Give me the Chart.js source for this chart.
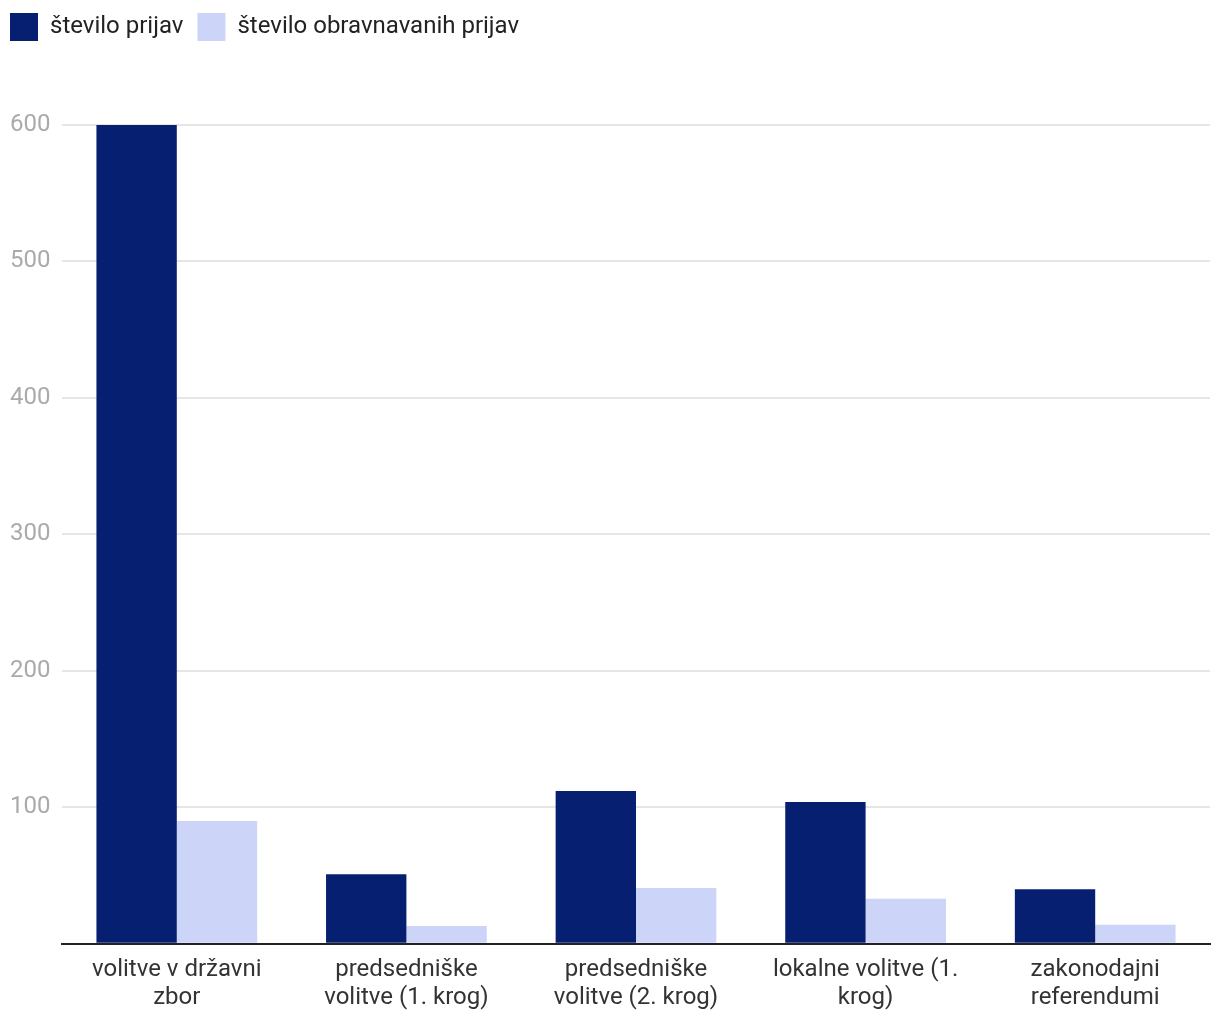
<!DOCTYPE html>
<html>
<head>
<meta charset="utf-8">
<script src="https://cdn.jsdelivr.net/npm/chart.js@4/dist/chart.umd.min.js"></script>
<style>
  html, body { margin: 0; padding: 0; background: #fff; }
  #wrap { width: 1220px; height: 1020px; }
</style>
</head>
<body>
<div id="wrap"><canvas id="chart"></canvas></div>
<script>
// Categories and values
const categories = [
    ['volitve v državni', 'zbor'],
    ['predsedniške', 'volitve (1. krog)'],
    ['predsedniške', 'volitve (2. krog)'],
    ['lokalne volitve (1.', 'krog)'],
    ['zakonodajni', 'referendumi']
];
const seriesNames = ['število prijav', 'število obravnavanih prijav'];
const prijave = [600, 51, 112, 104, 40];
const obravnavane = [90, 13, 41, 33, 14];
const yTicks = [0, 100, 200, 300, 400, 500, 600];

// Stretch the legend box so the plot starts lower, and pull it to the top-left corner
const legendSpace = {
    id: 'legendSpace',
    beforeInit(chart) {
        const legend = chart.legend;
        const fit = legend.fit;
        legend.fit = function () {
            fit.call(this);
            this.height += 71;
        };
        const draw = legend.draw;
        legend.draw = function () {
            const ctx = this.ctx;
            ctx.save();
            ctx.translate(-14, -3);
            draw.call(this);
            ctx.restore();
        };
    }
};

new Chart(document.getElementById('chart').getContext('2d'), {
    type: 'bar',
    data: {
        labels: categories,
        datasets: [
            { label: seriesNames[0], data: prijave, backgroundColor: '#071f70' },
            { label: seriesNames[1], data: obravnavane, backgroundColor: '#ccd4f8' }
        ]
    },
    options: {
        responsive: true,
        maintainAspectRatio: false,
        animation: false,
        layout: { padding: { left: 10, right: 10, top: 2, bottom: 0 } },
        datasets: { bar: { categoryPercentage: 0.7, barPercentage: 1.0 } },
        plugins: {
            legend: {
                align: 'start',
                labels: {
                    boxWidth: 28, boxHeight: 28, padding: 14,
                    color: '#222',
                    font: { family: 'Roboto', size: 24 }
                }
            },
            tooltip: { enabled: false }
        },
        scales: {
            x: {
                afterFit(scale) { scale.height -= 4; },
                grid: { display: false, drawTicks: false },
                border: { display: true, color: '#222', width: 2 },
                ticks: {
                    color: '#333', maxRotation: 0, autoSkip: false, padding: 12,
                    font: { family: 'Roboto', size: 24, lineHeight: 1.17 }
                }
            },
            y: {
                min: 0, max: 600,
                afterFit(scale) { scale.width = 52; },
                afterBuildTicks(scale) { scale.ticks = yTicks.map(v => ({ value: v })); },
                border: { display: false },
                grid: {
                    drawTicks: false, lineWidth: 2,
                    color: ctx => ctx.tick && ctx.tick.value === 0 ? 'rgba(0,0,0,0)' : '#e6e6e6'
                },
                ticks: {
                    color: '#aaa', crossAlign: 'far', padding: 0,
                    font: { family: 'Roboto', size: 24 },
                    callback: v => v === 0 ? '' : v
                }
            }
        }
    },
    plugins: [legendSpace]
});
</script>
</body>
</html>
